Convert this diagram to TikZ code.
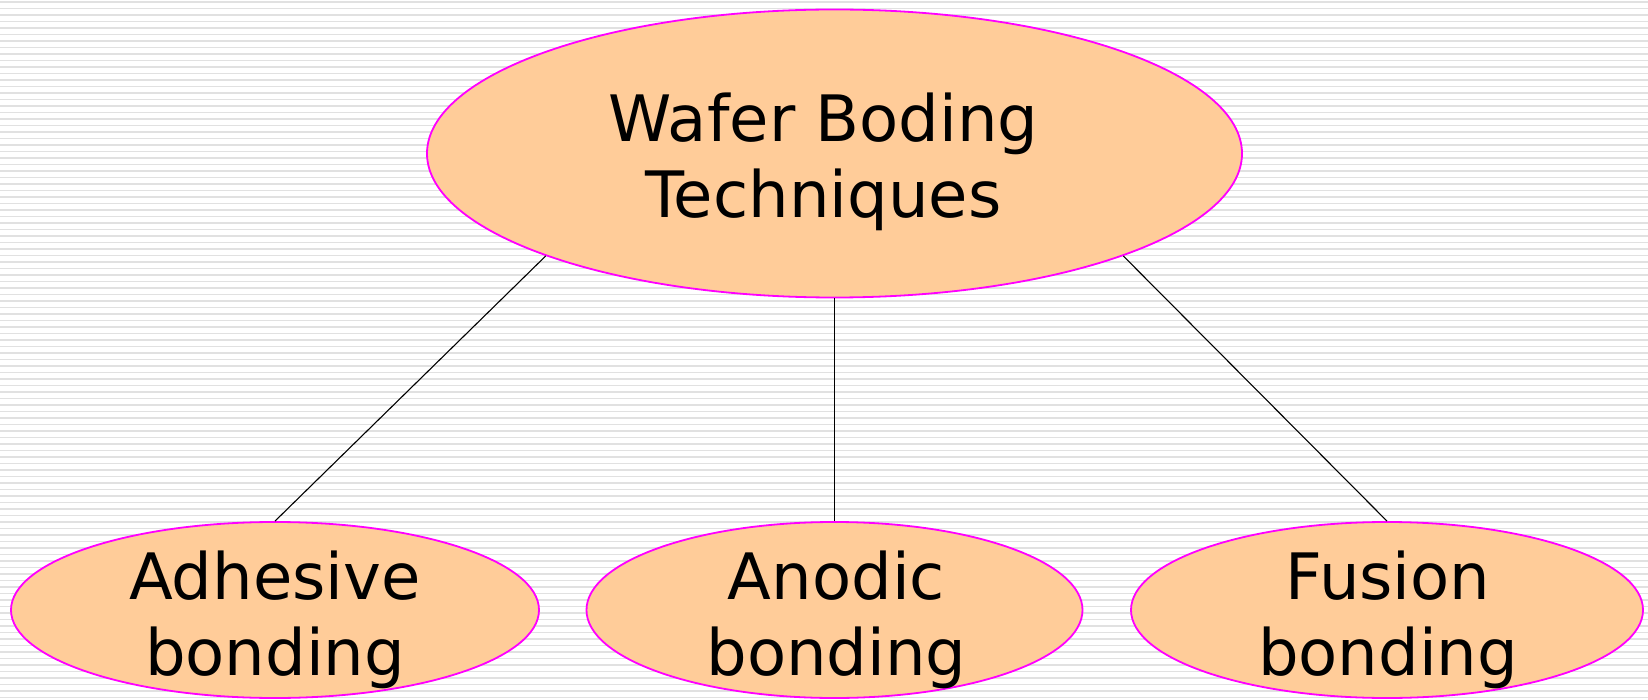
\documentclass[tikz,border=0pt]{standalone}
\usepackage{fontspec}
\setmainfont{DejaVu Sans}
\usetikzlibrary{shapes.geometric}
\begin{document}
\begin{tikzpicture}[x=1pt,y=-1pt,
  bubble/.style={ellipse,draw=pink2,fill=peach,line width=1.8pt,inner sep=0pt},
  caption/.style={align=center,inner sep=0pt,font=\fontsize{64}{76}\selectfont},
  link/.style={draw=black,line width=1.1pt}]
\definecolor{peach}{HTML}{FFCC99}
\definecolor{pink2}{HTML}{FF00FF}
\definecolor{ruling}{HTML}{E1E1E1}
% ruled paper background
\fill[white] (0,0) rectangle (1648,700);
\useasboundingbox (0,0) rectangle (1648,700);
\foreach \k in {0,...,107}{
  \draw[ruling,line width=1.5pt] (0,1.8+6.5*\k) -- (1648,1.8+6.5*\k);
}
% ellipses
\node[bubble,minimum width=815pt,minimum height=288pt] (top) at (834.5,153.5) {};
\node[bubble,minimum width=528pt,minimum height=176pt] (adh) at (275,610) {};
\node[bubble,minimum width=496pt,minimum height=176pt] (ano) at (834.5,610) {};
\node[bubble,minimum width=512pt,minimum height=176pt] (fus) at (1387,610) {};
% connectors
\draw[link] (top.south west) -- (adh.north);
\draw[link] (top.south) -- (ano.north);
\draw[link] (top.south east) -- (fus.north);
% texts
\node[caption] (ttop) at ([xshift=-11pt,yshift=-8.6pt]top.center) {Wafer Boding\\Techniques};
\node[caption] (tadh) at ([yshift=-10.3pt]adh.center) {Adhesive\\bonding};
\node[caption] (tano) at ([xshift=2pt,yshift=-10.3pt]ano.center) {Anodic\\bonding};
\node[caption] (tfus) at ([xshift=1pt,yshift=-10.3pt]fus.center) {Fusion\\bonding};
\end{tikzpicture}
\end{document}
